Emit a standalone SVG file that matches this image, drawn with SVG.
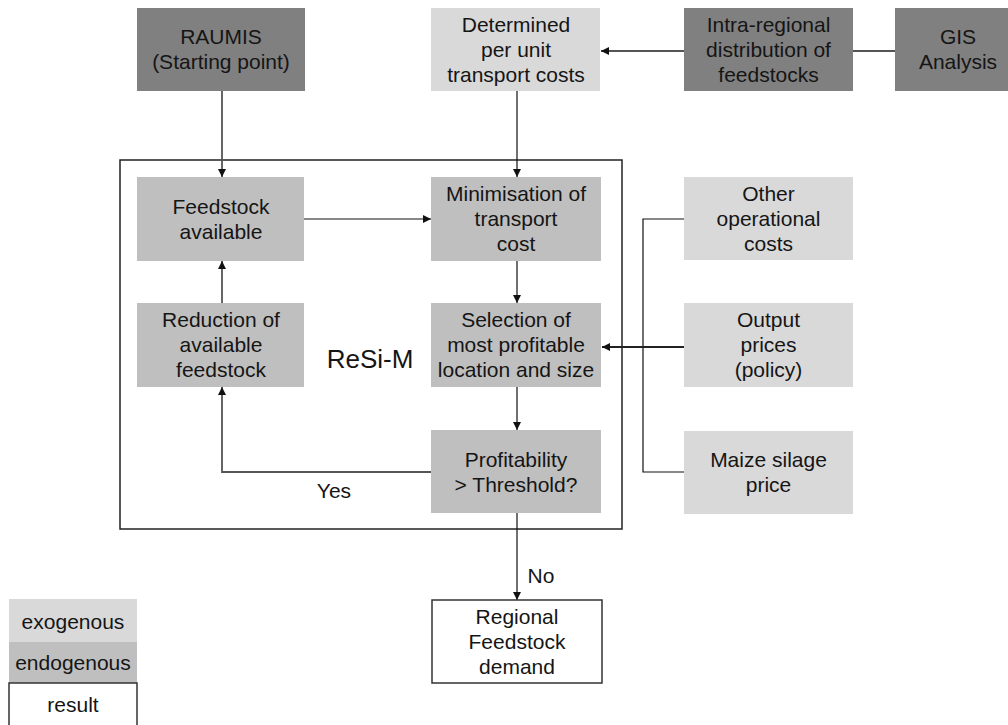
<svg xmlns="http://www.w3.org/2000/svg" width="1008" height="725" viewBox="0 0 1008 725">
<style>
text{font-family:"Liberation Sans",Arial,sans-serif;font-size:21px;fill:#151515;text-anchor:middle}
.dark{fill:#808080}
.mid{fill:#bfbfbf}
.light{fill:#d9d9d9}
.res{fill:#fff;stroke:#333;stroke-width:1.5}
.ln{fill:none;stroke:#111;stroke-width:1.2}
.gl{fill:none;stroke:#555;stroke-width:1.8}
</style>
<defs>
<marker id="ah" viewBox="0 0 10 10" refX="10" refY="5" markerWidth="8" markerHeight="8" markerUnits="userSpaceOnUse" orient="auto">
<path d="M0,0 L10,5 L0,10 z" fill="#111"/>
</marker>
</defs>
<rect width="1008" height="725" fill="#fff"/>

<g id="resim-frame">
<rect x="120" y="160" width="502" height="369" fill="none" stroke="#222" stroke-width="1.5"/>
<text x="370" y="368" style="font-size:26px">ReSi-M</text>
</g>

<g id="connectors">
<line class="gl" x1="222" y1="91" x2="222" y2="177" marker-end="url(#ah)"/>
<line class="ln" x1="517" y1="91" x2="517" y2="177" marker-end="url(#ah)"/>
<line class="gl" x1="684" y1="51" x2="601" y2="51" marker-end="url(#ah)"/>
<line class="gl" x1="853" y1="51" x2="895" y2="51"/>
<line class="ln" x1="304" y1="219" x2="431" y2="219" marker-end="url(#ah)"/>
<line class="ln" x1="517" y1="261" x2="517" y2="303" marker-end="url(#ah)"/>
<line class="ln" x1="517" y1="387" x2="517" y2="430" marker-end="url(#ah)"/>
<line class="gl" x1="222" y1="303" x2="222" y2="261" marker-end="url(#ah)"/>
<polyline class="gl" points="431,472 222,472 222,387" marker-end="url(#ah)"/>
<line class="ln" x1="517" y1="513" x2="517" y2="600" marker-end="url(#ah)"/>
<polyline class="ln" points="684,219 643,219 643,472 684,472"/>
<line x1="684" y1="347" x2="602" y2="347" stroke="#222" stroke-width="2" marker-end="url(#ah)"/>
<text x="334" y="498">Yes</text>
<text x="541" y="583">No</text>
</g>

<g id="raumis">
<rect class="dark" x="137" y="8" width="168" height="83"/>
<text x="221" y="44">RAUMIS</text>
<text x="221" y="69">(Starting point)</text>
</g>
<g id="determined">
<rect class="light" x="431" y="8" width="169" height="83"/>
<text x="516" y="31.5">Determined</text>
<text x="516" y="56.5">per unit</text>
<text x="516" y="81.5">transport costs</text>
</g>
<g id="intra">
<rect class="dark" x="684" y="8" width="169" height="83"/>
<text x="768.5" y="31.5">Intra-regional</text>
<text x="768.5" y="56.5">distribution of</text>
<text x="768.5" y="81.5">feedstocks</text>
</g>
<g id="gis">
<rect class="dark" x="895" y="8" width="126" height="83"/>
<text x="958" y="44">GIS</text>
<text x="958" y="69">Analysis</text>
</g>

<g id="feedstock-available">
<rect class="mid" x="137" y="177" width="167" height="84"/>
<text x="221" y="213.5">Feedstock</text>
<text x="221" y="238.5">available</text>
</g>
<g id="minimisation">
<rect class="mid" x="431" y="177" width="170" height="84"/>
<text x="516" y="201">Minimisation of</text>
<text x="516" y="226">transport</text>
<text x="516" y="251">cost</text>
</g>
<g id="reduction">
<rect class="mid" x="137" y="303" width="167" height="84"/>
<text x="221" y="327">Reduction of</text>
<text x="221" y="352">available</text>
<text x="221" y="377">feedstock</text>
</g>
<g id="selection">
<rect class="mid" x="431" y="303" width="170" height="84"/>
<text x="516" y="327">Selection of</text>
<text x="516" y="352">most profitable</text>
<text x="516" y="377">location and size</text>
</g>
<g id="profitability">
<rect class="mid" x="431" y="430" width="170" height="83"/>
<text x="516" y="466.5">Profitability</text>
<text x="516" y="491.5">&gt; Threshold?</text>
</g>

<g id="other-costs">
<rect class="light" x="684" y="177" width="169" height="83"/>
<text x="768.5" y="200.5">Other</text>
<text x="768.5" y="225.5">operational</text>
<text x="768.5" y="250.5">costs</text>
</g>
<g id="output-prices">
<rect class="light" x="684" y="303" width="169" height="84"/>
<text x="768.5" y="327">Output</text>
<text x="768.5" y="352">prices</text>
<text x="768.5" y="377">(policy)</text>
</g>
<g id="maize-price">
<rect class="light" x="684" y="431" width="169" height="83"/>
<text x="768.5" y="466.5">Maize silage</text>
<text x="768.5" y="491.5">price</text>
</g>

<g id="regional-demand">
<rect class="res" x="432" y="600" width="170" height="83"/>
<text x="517" y="623.5">Regional</text>
<text x="517" y="648.5">Feedstock</text>
<text x="517" y="673.5">demand</text>
</g>

<g id="legend">
<rect class="light" x="9" y="599" width="128" height="43"/>
<text x="73" y="629">exogenous</text>
<rect class="mid" x="9" y="642" width="128" height="41"/>
<text x="73" y="670">endogenous</text>
<rect class="res" x="9" y="683" width="128" height="44"/>
<text x="73" y="712">result</text>
</g>
</svg>
